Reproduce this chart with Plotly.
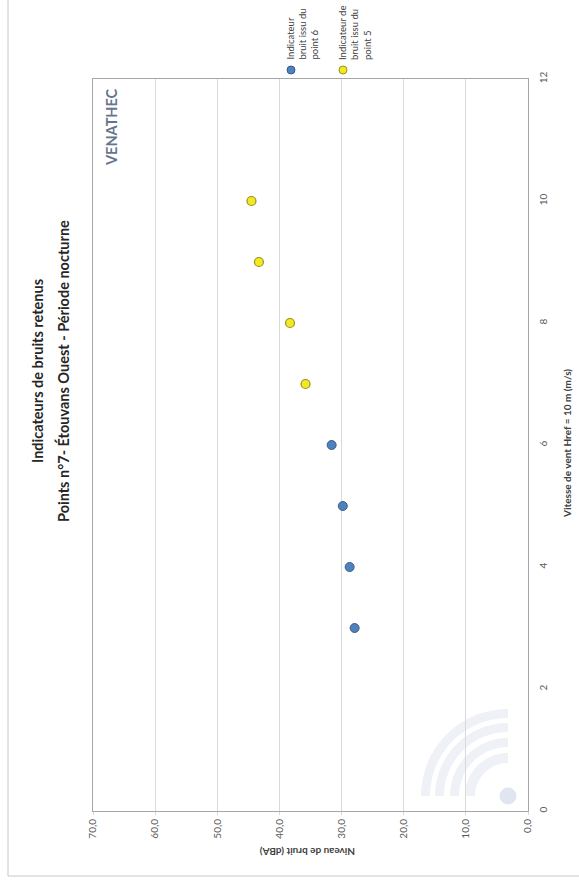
import math
import plotly.graph_objects as go

# Wind speed (m/s) and retained noise indicators (dBA)
wind_p6 = [3, 4, 5, 6]
level_p6 = [27.9, 28.7, 29.8, 31.6]
wind_p5 = [7, 8, 9, 10]
level_p5 = [35.8, 38.3, 43.3, 44.5]

level_ticks = [0, 10, 20, 30, 40, 50, 60, 70]
level_ticktext = ["0,0", "10,0", "20,0", "30,0", "40,0", "50,0", "60,0", "70,0"]
wind_ticks = [0, 2, 4, 6, 8, 10, 12]

name_p6 = "Indicateur<br>bruit issu du<br>point 6"
name_p5 = "Indicateur de<br>bruit issu du<br>point 5"

W, H = 579, 888
L, R, T, B = 93, 528, 79, 811


def px(x):
    return (x - L) / (R - L)


def py(y):
    return (B - y) / (B - T)


FONT = "Lato"
BLUE, BLUE_EDGE = "#4f81bd", "#385d8a"
YEL, YEL_EDGE = "#f3e824", "#9a9020"

fig = go.Figure()
fig.add_trace(go.Scatter(
    x=level_p6, y=wind_p6, mode="markers", name="point 6",
    marker=dict(size=9, color=BLUE, line=dict(color=BLUE_EDGE, width=1)),
    showlegend=False,
))
fig.add_trace(go.Scatter(
    x=level_p5, y=wind_p5, mode="markers", name="point 5",
    marker=dict(size=9, color=YEL, line=dict(color=YEL_EDGE, width=1.2)),
    showlegend=False,
))

shapes = []
# outer chart frame
shapes.append(dict(type="rect", xref="paper", yref="paper",
                   x0=px(8), x1=px(620), y0=py(876), y1=py(-20),
                   line=dict(color="#c8c8c8", width=1), layer="below"))

# faint signal watermark: dot and quarter arcs
cx, cy = 508, 796


def arc_path(r0, r1, n=24):
    pts = []
    for i in range(n + 1):
        a = math.pi / 2 + (math.pi / 2) * i / n
        pts.append((cx + r1 * math.cos(a), cy - r1 * math.sin(a)))
    for i in range(n, -1, -1):
        a = math.pi / 2 + (math.pi / 2) * i / n
        pts.append((cx + r0 * math.cos(a), cy - r0 * math.sin(a)))
    return "M " + " L ".join(f"{px(x):.5f},{py(y):.5f}" for x, y in pts) + " Z"


for r0, r1 in [(33, 43), (49, 58), (64, 73), (78, 87)]:
    shapes.append(dict(type="path", xref="paper", yref="paper",
                       path=arc_path(r0, r1), fillcolor="#eef1f5",
                       line=dict(width=0), layer="below"))
shapes.append(dict(type="circle", xref="paper", yref="paper",
                   x0=px(cx - 8.5), x1=px(cx + 8.5), y0=py(cy + 8.5), y1=py(cy - 8.5),
                   fillcolor="#dfe6ef", line=dict(width=0), layer="below"))

# legend markers
for mx, col, edge in [(291, BLUE, BLUE_EDGE), (343, YEL, YEL_EDGE)]:
    shapes.append(dict(type="circle", xref="paper", yref="paper",
                       x0=px(mx - 4), x1=px(mx + 4), y0=py(74), y1=py(66),
                       fillcolor=col, line=dict(color=edge, width=1)))

annotations = [
    dict(text="<b>Indicateurs de bruits retenus</b>", x=px(37), y=py(371),
         textangle=-90, font=dict(family=FONT, size=14.5, color="#262626")),
    dict(text="<b>Points n°7- Étouvans Ouest - Période nocturne</b>", x=px(63), y=py(371),
         textangle=-90, font=dict(family=FONT, size=14.5, color="#262626")),
    dict(text="<b>Niveau de bruit (dBA)</b>", x=px(308), y=py(852),
         textangle=180, font=dict(family=FONT, size=10, color="#404040")),
    dict(text="<b>Vitesse de vent Href = 10 m (m/s)</b>", x=px(567), y=py(444),
         textangle=-90, font=dict(family=FONT, size=10, color="#404040")),
    dict(text="<b>VENATHEC</b>", x=px(112), y=py(127),
         textangle=-90, font=dict(family=FONT, size=14.5, color="#66758c")),
    dict(text=name_p6, x=px(303), y=py(62), yanchor="bottom", align="left",
         textangle=-90, font=dict(family=FONT, size=9.5, color="#404040")),
    dict(text=name_p5, x=px(355), y=py(62), yanchor="bottom", align="left",
         textangle=-90, font=dict(family=FONT, size=9.5, color="#404040")),
]
for a in annotations:
    a.setdefault("xref", "paper")
    a.setdefault("yref", "paper")
    a.setdefault("showarrow", False)
    a.setdefault("xanchor", "center")
    a.setdefault("yanchor", "middle")

fig.update_layout(
    width=W, height=H,
    margin=dict(l=L, r=W - R, t=T, b=H - B),
    paper_bgcolor="white", plot_bgcolor="white",
    showlegend=False,
    shapes=shapes, annotations=annotations,
    xaxis=dict(
        range=[70, 0], tickvals=level_ticks, ticktext=level_ticktext,
        tickangle=-90, showgrid=True, gridcolor="#d9d9d9", gridwidth=1,
        showline=True, linecolor="#a6a6a6", linewidth=1, mirror=True,
        zeroline=False, ticks="outside", ticklen=3, tickcolor="#d9d9d9",
        tickfont=dict(family=FONT, size=10, color="#595959"),
        fixedrange=True,
    ),
    yaxis=dict(
        range=[0, 12], tickvals=wind_ticks, side="right",
        tickangle=-90, showgrid=False,
        showline=True, linecolor="#a6a6a6", linewidth=1, mirror=True,
        zeroline=False, ticks="", ticklabelstandoff=6,
        tickfont=dict(family=FONT, size=10, color="#595959"),
        fixedrange=True,
    ),
)

fig.write_html("out.html")
